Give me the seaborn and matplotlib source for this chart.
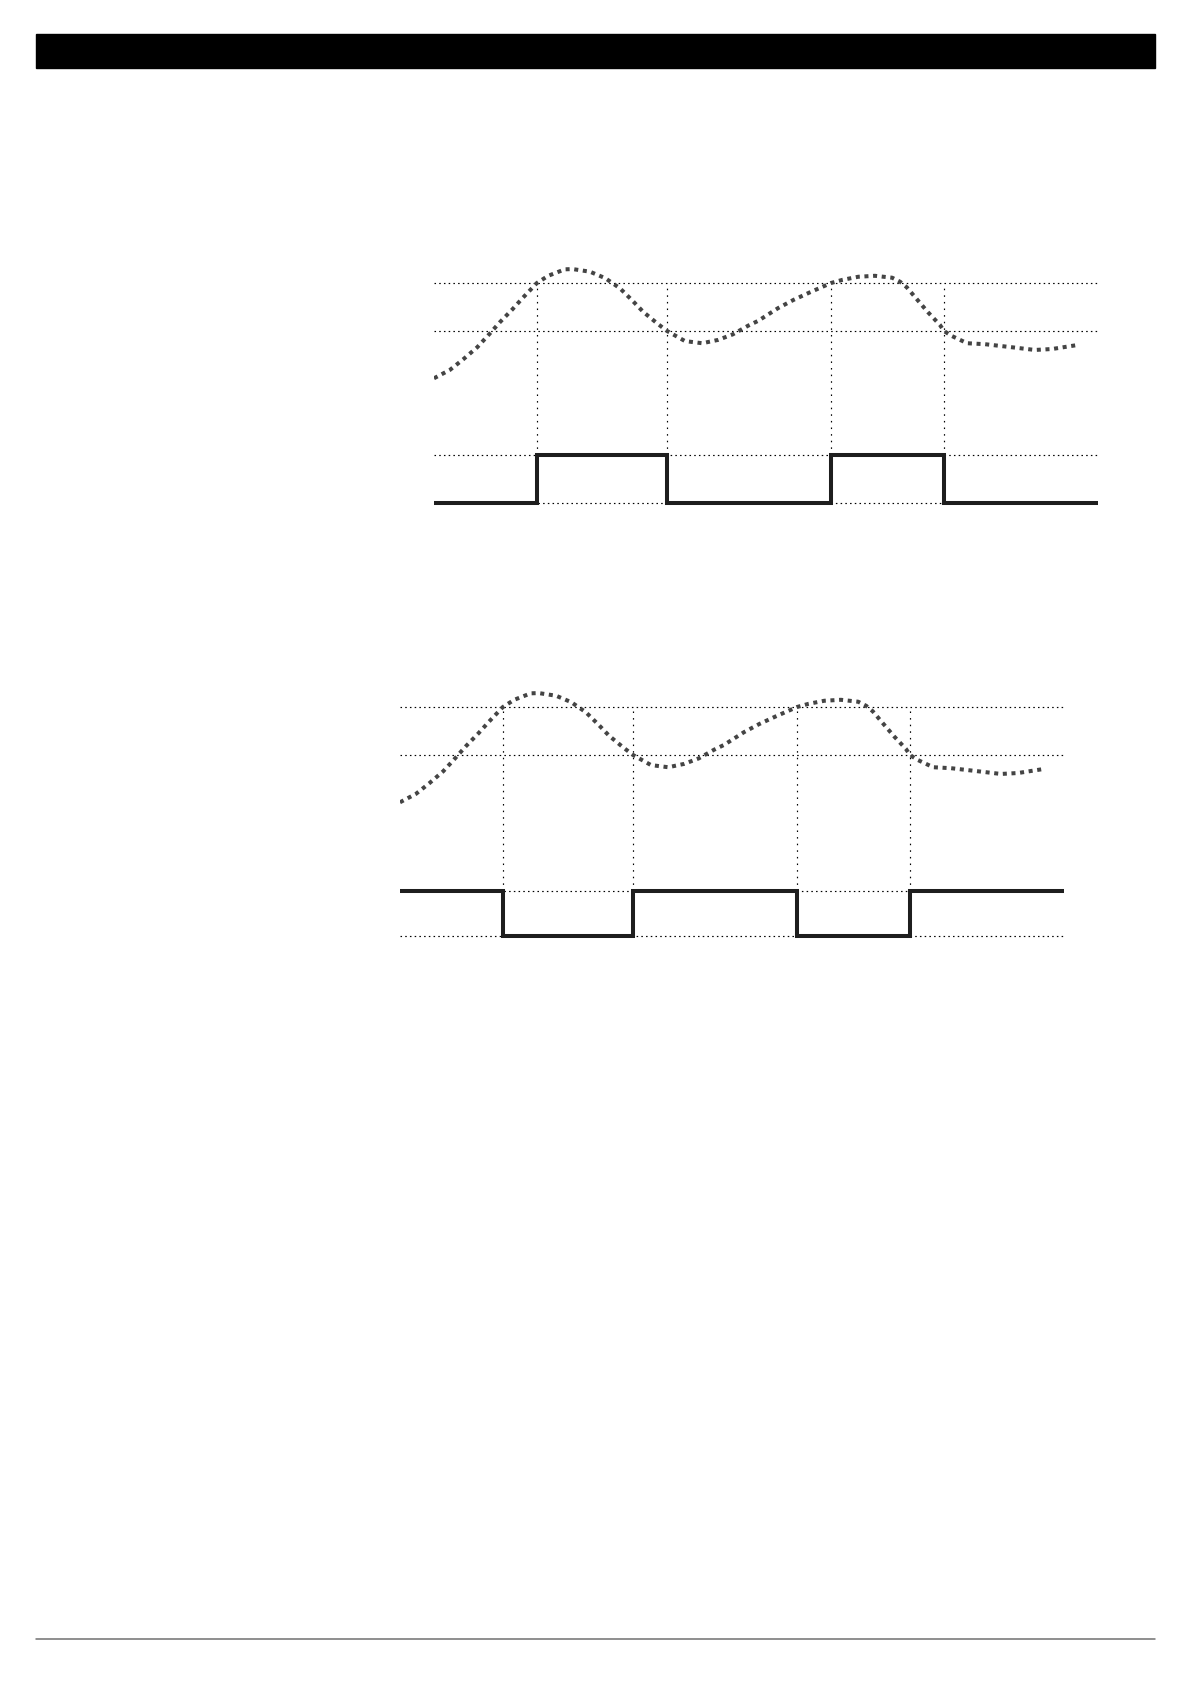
import matplotlib
matplotlib.use("Agg")
import matplotlib.pyplot as plt
from matplotlib.patches import Rectangle
from matplotlib.lines import Line2D
import seaborn as sns

# temperature trace (time in s, temperature in degC)
time = [0, 2.4, 4.4, 6.5, 8.1, 9.9, 11.8, 13.4, 15.5, 17.2, 19.7, 20.9, 23.5,
        25.8, 28.0, 29.8, 31.5, 33.6, 35.1, 37.8, 40.4, 42.8, 45.0, 47.3, 48.8,
        51.8, 54.1, 56.6, 58.9, 59.8, 61.5, 63.9, 66.4, 69.0, 70.2, 71.2, 72.7,
        74.4, 76.2, 76.8, 78.0, 80.3, 83.0, 86.8, 90.5, 93.1, 97.0]
temp = [20.03, 20.38, 20.82, 21.32, 21.80, 22.36, 22.90, 23.39, 24.0, 24.30, 24.57,
        24.58, 24.47, 24.20, 23.78, 23.29, 22.80, 22.32, 22.0, 21.58, 21.49, 21.63,
        21.86, 22.22, 22.42, 22.95, 23.29, 23.61, 23.89, 24.0, 24.13, 24.26, 24.30,
        24.22, 24.05, 23.82, 23.33, 22.78, 22.25, 22.0, 21.79, 21.49, 21.45, 21.33,
        21.21, 21.25, 21.42]

# thresholds
t_high = 24.0
t_low = 22.0

# switching instants and output states
switch_t = [0, 15.5, 35.1, 59.8, 76.8, 100]
out_direct = [0, 1, 0, 1, 0, 0]
out_reverse = [1, 0, 1, 0, 1, 1]

sns.set_style("white")
W, H = 1191, 1684
fig = plt.figure(figsize=(W / 100, H / 100), dpi=100)

# header bar and footer rule
fig.patches.append(Rectangle((36 / W, 1 - 68 / H), (1155 - 36) / W, 34 / H,
                             transform=fig.transFigure, color="black"))
fig.lines.append(Line2D([36 / W, 1155 / W], [1 - 1639 / H] * 2,
                        transform=fig.transFigure, color="#707070", lw=1.1))

hgrid = dict(color="black", lw=0.85, linestyle=(0, (1.3, 2.7)), dash_capstyle="butt")
vgrid = dict(color="black", lw=0.85, linestyle=(0, (1.3, 4.3)), dash_capstyle="butt")


def panel(left, top, states, out_lim):
    ax = fig.add_axes([left / W, 1 - (top + 288) / H, 664 / W, 288 / H])
    ax2 = ax.twinx()

    # threshold lines
    for v in (t_high, t_low):
        ax.axhline(v, zorder=1, **hgrid)
    # output level lines
    for v in (0, 1):
        ax2.axhline(v, zorder=1, **hgrid)

    # vertical markers from threshold down to output high level
    y_top = (t_high - 14) / (26 - 14)
    y_bot = (1 - out_lim[0]) / (out_lim[1] - out_lim[0])
    for t in switch_t[1:-1]:
        ax.axvline(t, ymin=y_bot, ymax=y_top, zorder=1, **vgrid)

    sns.lineplot(x=time, y=temp, ax=ax, color="#444444", lw=2.9,
                 linestyle=(0, (1, 1.15)), dash_capstyle="butt", zorder=3)
    sns.lineplot(x=switch_t, y=states, ax=ax2, color="#1e1e1e", lw=2.9,
                 drawstyle="steps-post", solid_joinstyle="miter",
                 solid_capstyle="butt", zorder=3)
    ax.set_xlim(0, 100)
    ax.set_ylim(14, 26)
    ax2.set_ylim(*out_lim)
    ax.axis("off")
    ax2.axis("off")


panel(434, 235, out_direct, (-20 / 48, 1 + 220 / 48))
panel(400, 659, out_reverse, (-11 / 45, 1 + 232 / 45))

fig.savefig("out.png", dpi=100, facecolor="white")
